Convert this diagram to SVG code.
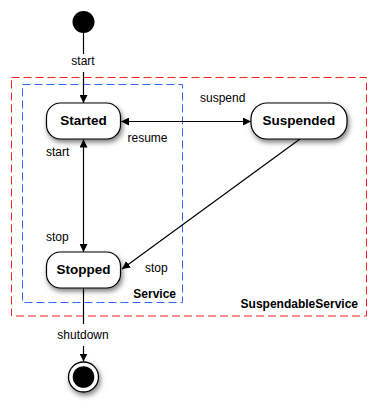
<svg xmlns="http://www.w3.org/2000/svg" width="377" height="415" viewBox="0 0 377 415">
<defs>
<style>
.lbl{font-family:"Liberation Sans",Arial,sans-serif;font-size:12px;fill:#000}
.node{font-family:"Liberation Sans",Arial,sans-serif;font-size:13.5px;font-weight:bold;fill:#000;text-anchor:middle}
.grp{font-family:"Liberation Sans",Arial,sans-serif;font-size:12px;font-weight:bold;fill:#000}
.box{fill:#fff;stroke:#000;stroke-width:1.2}
.edge{stroke:#000;stroke-width:1.2;fill:none}
</style>
<marker id="ah" viewBox="0 0 10 10" refX="10" refY="5" markerWidth="8" markerHeight="8" markerUnits="userSpaceOnUse" orient="auto-start-reverse">
<path d="M0,0 L10,5 L0,10 z" fill="#000"/>
</marker>
<filter id="sh" x="-30%" y="-30%" width="170%" height="180%">
<feDropShadow dx="1.5" dy="3" stdDeviation="2.5" flood-color="#000" flood-opacity="0.5"/>
</filter>
</defs>
<rect width="377" height="415" fill="#fff"/>
<g id="SuspendableService">
<rect x="11.5" y="77.5" width="355" height="238.5" fill="none" stroke="#ff2020" stroke-width="1" stroke-dasharray="8,4"/>
<text class="grp" x="358" y="308" text-anchor="end">SuspendableService</text>
</g>
<g id="Service">
<rect x="22.5" y="84.5" width="160" height="218" fill="none" stroke="#3366ff" stroke-width="1" stroke-dasharray="8,4"/>
<text class="grp" x="176" y="298" text-anchor="end">Service</text>
</g>
<g id="connectors">
<line class="edge" x1="83.5" y1="33" x2="83.5" y2="54"/>
<line class="edge" x1="83.5" y1="72" x2="83.5" y2="103" marker-end="url(#ah)"/>
<text class="lbl" x="83" y="65" text-anchor="middle">start</text>
<line class="edge" x1="121" y1="121.5" x2="251" y2="121.5" marker-start="url(#ah)" marker-end="url(#ah)"/>
<text class="lbl" x="200" y="102">suspend</text>
<text class="lbl" x="127.5" y="142">resume</text>
<line class="edge" x1="83.5" y1="139.5" x2="83.5" y2="252" marker-start="url(#ah)" marker-end="url(#ah)"/>
<text class="lbl" x="46" y="156">start</text>
<text class="lbl" x="46" y="241">stop</text>
<line class="edge" x1="300" y1="139" x2="122" y2="269" stroke-width="1" marker-end="url(#ah)"/>
<text class="lbl" x="145" y="272">stop</text>
<line class="edge" x1="83.5" y1="288" x2="83.5" y2="324"/>
<line class="edge" x1="83.5" y1="346" x2="83.5" y2="361.5" marker-end="url(#ah)"/>
<text class="lbl" x="83" y="339" text-anchor="middle">shutdown</text>
</g>
<g id="initial">
<circle cx="83.5" cy="22" r="11" fill="#000"/>
</g>
<g id="Started">
<rect class="box" x="46.5" y="103" width="74" height="36" rx="14" filter="url(#sh)"/>
<text class="node" x="83.5" y="125">Started</text>
</g>
<g id="Suspended">
<rect class="box" x="251" y="103" width="96" height="36" rx="16" filter="url(#sh)"/>
<text class="node" x="299" y="125">Suspended</text>
</g>
<g id="Stopped">
<rect class="box" x="46.5" y="252" width="74" height="36" rx="14" filter="url(#sh)"/>
<text class="node" x="83.5" y="274">Stopped</text>
</g>
<g id="final">
<circle cx="83.5" cy="377" r="15" fill="#fff" stroke="#000" stroke-width="1.3" filter="url(#sh)"/>
<circle cx="83.5" cy="377" r="10.8" fill="#000"/>
</g>
</svg>
